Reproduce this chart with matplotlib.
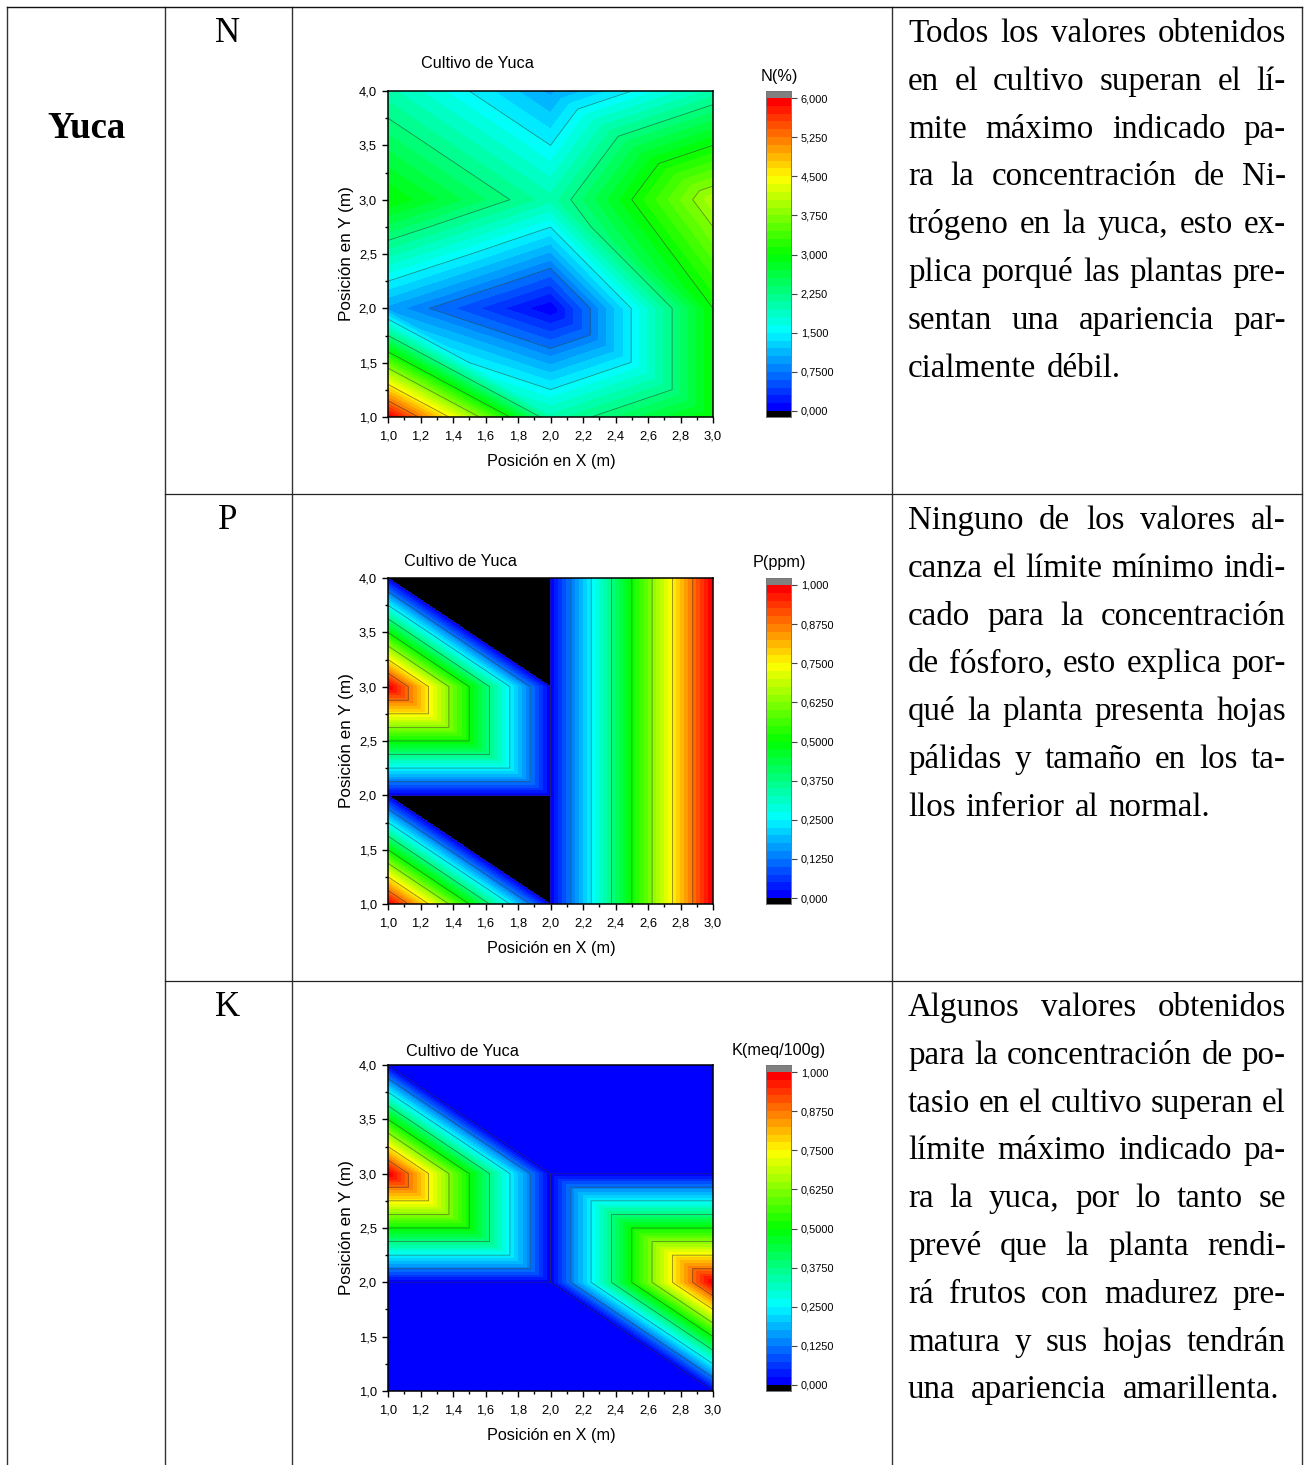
import numpy as np
import matplotlib
matplotlib.use('Agg')
import matplotlib.pyplot as plt
import matplotlib.tri as mtri
from matplotlib.colors import LinearSegmentedColormap
from matplotlib.ticker import MultipleLocator, FuncFormatter

# Grid of the measurements
x_pos = [1.0, 2.0, 3.0]
y_pos = [1.0, 2.0, 3.0, 4.0]

# values per column, bottom to top
n_x1 = [6.0, 1.0, 3.0, 2.0]
n_x2 = [2.0, 0.02, 2.0, 1.0]
n_x3 = [3.0, 3.0, 4.0, 2.0]

# the black areas of P sit just under the bottom of the scale
p_x1 = [1.0, -0.001, 1.0, -0.001]
p_x2 = [-0.001, -0.001, -0.001, -0.001]
p_x3 = [1.0, 1.0, 1.0, 1.0]

k_x1 = [0.0, 0.0, 1.0, 0.0]
k_x2 = [0.0, 0.0, 0.0, 0.0]
k_x3 = [0.0, 1.0, 0.0, 0.0]

n_cb_labels = ['0,000', '0,7500', '1,500', '2,250', '3,000', '3,750', '4,500', '5,250', '6,000']
pk_cb_labels = ['0,000', '0,1250', '0,2500', '0,3750', '0,5000', '0,6250', '0,7500', '0,8750', '1,000']

n_text = ['Todos los valores obtenidos', 'en el cultivo superan el lí-', 'mite máximo indicado pa-',
          'ra la concentración de Ni-', 'trógeno en la yuca, esto ex-', 'plica porqué las plantas pre-',
          'sentan una apariencia par-', 'cialmente débil.']
p_text = ['Ninguno de los valores al-', 'canza el límite mínimo indi-', 'cado para la concentración',
          'de fósforo, esto explica por-', 'qué la planta presenta hojas', 'pálidas y tamaño en los ta-',
          'llos inferior al normal.']
k_text = ['Algunos valores obtenidos', 'para la concentración de po-', 'tasio en el cultivo superan el',
          'límite máximo indicado pa-', 'ra la yuca, por lo tanto se', 'prevé que la planta rendi-',
          'rá frutos con madurez pre-', 'matura y sus hojas tendrán', 'una apariencia amarillenta.']

W, H = 1310, 1465
SERIF = 'Liberation Serif'
SANS = 'Liberation Sans'
plt.rcParams['font.family'] = SANS

fig = plt.figure(figsize=(W / 100, H / 100), dpi=100)


def px_axes(x0, y0, x1, y1):
    return fig.add_axes([x0 / W, 1 - y1 / H, (x1 - x0) / W, (y1 - y0) / H])


# background axes in pixels, for the table
bg = fig.add_axes([0, 0, 1, 1])
bg.set_xlim(0, W)
bg.set_ylim(H, 0)
bg.axis('off')

for vx in [7, 165, 292, 892, 1302]:
    bg.plot([vx, vx], [7, H], color='#333333', lw=1.0)
bg.plot([7, 1302], [7, 7], color='#111111', lw=1.0)
for hy in [494, 981]:
    bg.plot([165, 1302], [hy, hy], color='#222222', lw=0.9)

bg.text(86, 129, 'Yuca', family=SERIF, weight='bold', fontsize=26.5, ha='center', va='center')
for lab, ly in zip(['N', 'P', 'K'], [42, 529, 1016]):
    bg.text(228, ly, lab, family=SERIF, fontsize=25, ha='center', va='baseline')


def justified(lines, y_first, last_right):
    renderer = fig.canvas.get_renderer()
    for i, line in enumerate(lines):
        right = last_right if i == len(lines) - 1 else 1286
        words = line.split(' ')
        txts = [bg.text(908, y_first + i * 47.8, w, family=SERIF, fontsize=23.8, va='baseline') for w in words]
        widths = [t.get_window_extent(renderer).width for t in txts]
        gap = (right - 908 - sum(widths)) / (len(words) - 1)
        xp = 908
        for t, w in zip(txts, widths):
            t.set_x(xp)
            xp += w + gap


justified(n_text, 42, 1121)
justified(p_text, 529, 1210)
justified(k_text, 1016, 1279)

# rainbow in 40 steps, black under the range, gray above it
rainbow = LinearSegmentedColormap.from_list('rb', ['#0000ff', '#00ffff', '#00ff00', '#ffff00', '#ff0000'], N=40)
rainbow.set_under('black')
rainbow.set_over('#808080')

xx, yy = np.meshgrid(x_pos, y_pos, indexing='ij')
tris = []
for i in range(len(x_pos) - 1):
    for j in range(len(y_pos) - 1):
        a = i * len(y_pos) + j
        b = a + 1
        c = a + len(y_pos)
        d = c + 1
        tris.append([a, c, b])
        tris.append([b, c, d])
tri = mtri.Triangulation(xx.ravel(), yy.ravel(), tris)


def comma(v, pos):
    return ('%.1f' % v).replace('.', ',')


def panel(top, columns, vmax, cb_labels, cb_title, cb_title_y, title_x, title_y):
    z = np.array(columns).ravel()
    ax = px_axes(388, top, 713, top + 326)
    levels = np.linspace(0, vmax, 41)
    ax.tricontourf(tri, z, levels=levels, cmap=rainbow, vmin=0, vmax=vmax, extend='both')
    line_levels = np.linspace(0, vmax, 9)[:-1]
    line_levels[0] = vmax * 0.001
    ax.tricontour(tri, z, levels=line_levels, colors='#333333', linewidths=0.6, alpha=0.55)
    ax.set_xlim(1, 3)
    ax.set_ylim(1, 4)
    ax.xaxis.set_major_locator(MultipleLocator(0.2))
    ax.xaxis.set_minor_locator(MultipleLocator(0.1))
    ax.yaxis.set_major_locator(MultipleLocator(0.5))
    ax.yaxis.set_minor_locator(MultipleLocator(0.25))
    ax.xaxis.set_major_formatter(FuncFormatter(comma))
    ax.yaxis.set_major_formatter(FuncFormatter(comma))
    ax.tick_params(which='major', length=4, width=1.0, labelsize=9.4)
    ax.tick_params(which='minor', length=2.5, width=1.0)
    ax.tick_params(axis='x', which='major', pad=6)
    ax.tick_params(axis='y', which='major', pad=4)
    for s in ax.spines.values():
        s.set_linewidth(1.1)
    bg.text(551, top + 370.5, 'Posición en X (m)', fontsize=11.7, ha='center', va='center')
    bg.text(346.5, top + 163, 'Posición en Y (m)', fontsize=12.3, ha='center', va='center', rotation=90)
    bg.text(title_x, title_y, 'Cultivo de Yuca', fontsize=11.7, ha='left', va='center')
    bg.text(779, cb_title_y, cb_title, fontsize=11.7, ha='center', va='center')

    # colour scale
    cb = px_axes(766, top, 791, top + 326)
    cb.set_ylim(-vmax * 6 / 313, vmax * (1 + 7 / 313))
    cb.set_xlim(0, 1)
    mids = (levels[:-1] + levels[1:]) / 2
    cb.pcolormesh([0, 1], levels, mids[:, None], cmap=rainbow, vmin=0, vmax=vmax)
    cb.axhspan(-vmax, 0, color='black', lw=0)
    cb.axhspan(vmax, vmax * 2, color='#808080', lw=0)
    cb.set_xticks([])
    cb.yaxis.tick_right()
    cb.set_yticks(np.linspace(0, vmax, 9))
    cb.set_yticklabels(cb_labels)
    cb.tick_params(axis='y', length=4, width=0.8, color='#444444', labelsize=7.9, pad=3)
    for s in cb.spines.values():
        s.set_linewidth(0.7)
        s.set_color('#777777')


panel(91, [n_x1, n_x2, n_x3], 6.0, n_cb_labels, 'N(%)', 76, 421, 63.5)
panel(578, [p_x1, p_x2, p_x3], 1.0, pk_cb_labels, 'P(ppm)', 563, 404, 561.5)
panel(1065, [k_x1, k_x2, k_x3], 1.0, pk_cb_labels, 'K(meq/100g)', 1050, 406, 1052)

fig.savefig('out.png', dpi=100)
